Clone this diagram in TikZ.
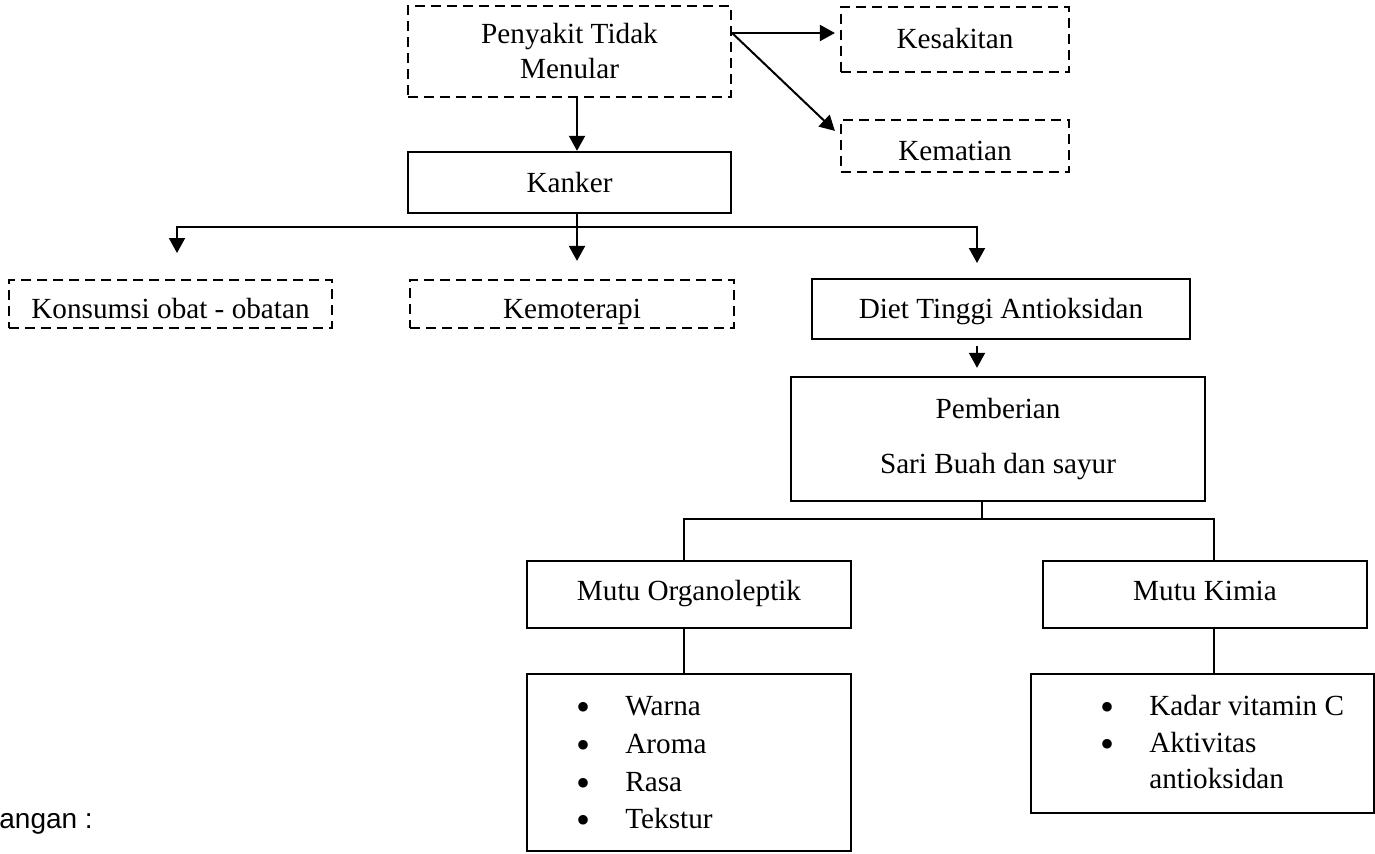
\documentclass[tikz,border=0pt]{standalone}
\usepackage{fontspec}
\setmainfont{Liberation Serif}
\newfontfamily\sansf{Liberation Sans}
\usetikzlibrary{arrows.meta}
\begin{document}
\begin{tikzpicture}[x=0.5pt,y=-0.5pt,
  every node/.style={font=\fontsize{14.6pt}{17.5pt}\selectfont, inner sep=0pt},
  one/.style={text height=0.75em, text depth=0.09em},
  dbox/.style={draw, dash pattern=on 5pt off 3pt, line width=1.1pt},
  sbox/.style={draw, line width=1.2pt},
  arr/.style={line width=1pt, -{Triangle[length=7.5pt,width=8pt]}},
  ln/.style={line width=0.6pt},
  item/.style={anchor=base west},
  bul/.style={anchor=base, font=\fontsize{20pt}{20pt}\selectfont}
  ]
\useasboundingbox (0,0) rectangle (1375,853);

% boxes
\node[dbox, minimum width=161.5pt, minimum height=45.5pt, align=center] (pen) at (569.5,51.5) {Penyakit Tidak\\Menular};
\node[dbox, one, minimum width=114pt, minimum height=32.5pt] (kes) at (955,39.5) {\raisebox{-1pt}{Kesakitan}};
\node[dbox, one, minimum width=114pt, minimum height=26pt] (kem) at (955,146) {\raisebox{-4pt}{Kematian}};
\node[sbox, one, minimum width=161.5pt, minimum height=30.5pt] (kanker) at (569.5,182.5) {\raisebox{-1.5pt}{Kanker}};
\node[dbox, one, minimum width=161.5pt, minimum height=24pt] (kons) at (170.5,304) {\raisebox{-4pt}{Konsumsi obat - obatan}};
\node[dbox, one, minimum width=162pt, minimum height=24pt] (kemo) at (572,304) {\raisebox{-4pt}{Kemoterapi}};
\node[sbox, one, minimum width=189pt, minimum height=30pt] (diet) at (1001,309) {\raisebox{-1.5pt}{Diet Tinggi Antioksidan}};
\node[sbox, minimum width=207pt, minimum height=62pt, align=center] (pem) at (998,439) {Pemberian\\[10pt]Sari Buah dan sayur};
\node[sbox, one, minimum width=162pt, minimum height=33.5pt] (org) at (689,594.5) {\raisebox{0.5pt}{Mutu Organoleptik}};
\node[sbox, one, minimum width=162pt, minimum height=33.5pt] (kim) at (1205,594.5) {\raisebox{0.5pt}{Mutu Kimia}};
\node[sbox, minimum width=162pt, minimum height=88.5pt] (orgl) at (689,762.5) {};
\node[sbox, minimum width=171.5pt, minimum height=69.5pt] (kiml) at (1202.5,743.5) {};

% list items
\node[bul] (ob1) at (583,720) {\textbullet};
\node[item] (ot1) at (625,715) {Warna};
\node[bul] (ob2) at (583,758) {\textbullet};
\node[item] (ot2) at (625,753) {Aroma};
\node[bul] (ob3) at (583,796) {\textbullet};
\node[item] (ot3) at (625,791) {Rasa};
\node[bul] (ob4) at (583,833) {\textbullet};
\node[item] (ot4) at (625,828) {Tekstur};

\node[bul] (kb1) at (1107,720) {\textbullet};
\node[item] (kt1) at (1149,715) {Kadar vitamin C};
\node[bul] (kb2) at (1107,757) {\textbullet};
\node[item] (kt2) at (1149,752) {Aktivitas};
\node[item] (kt3) at (1149,788) {antioksidan};

\node[anchor=base west, font=\sansf\fontsize{14pt}{16pt}\selectfont] (ket) at (-1,828) {angan :};

% connectors
\draw[arr, shorten >=2.5pt] ([yshift=9.25pt]pen.east) -- ([yshift=9.25pt]pen.east -| kes.west);
\draw[arr] ([yshift=9.25pt]pen.east) -- ([xshift=-2.5pt,yshift=-6pt]kem.north west);
\draw[arr] ([xshift=3.75pt]pen.south) -- ([xshift=3.75pt]kanker.north);

\coordinate (j) at (577,227);
\draw[line width=1pt] ([xshift=3.75pt]kanker.south) -- (j);
\draw[arr, shorten >=13.5pt] (j) -| (177,280);
\draw[arr, shorten >=9pt] (j) -- (j |- kemo.north);
\draw[arr, shorten >=8pt] (j) -| (977,279);

\draw[arr, shorten <=3pt, shorten >=4pt] ([xshift=-12pt]diet.south) -- ([xshift=-12pt]diet.south |- pem.north);

\coordinate (bj) at (982,519);
\draw[ln] ([xshift=-8pt]pem.south) -- (bj);
\draw[ln] (bj) -| ([xshift=-2.5pt]org.north);
\draw[ln] (bj) -| ([xshift=4.5pt]kim.north);
\draw[ln] ([xshift=-2.5pt]org.south) -- ([xshift=-2.5pt]orgl.north);
\draw[ln] ([xshift=4.5pt]kim.south) -- ([xshift=4.5pt]kim.south |- kiml.north);
\end{tikzpicture}
\end{document}
